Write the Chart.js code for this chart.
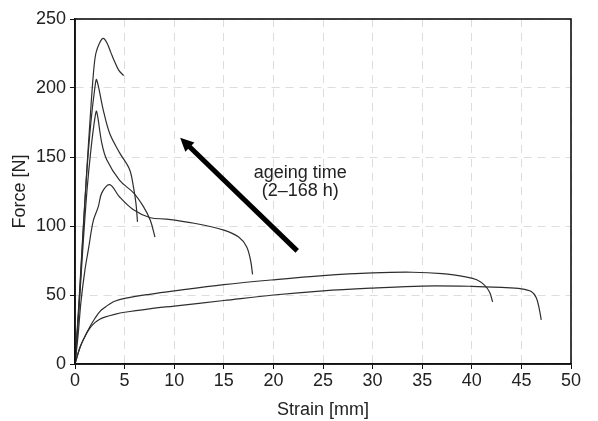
<!DOCTYPE html>
<html>
<head>
<meta charset="utf-8">
<script src="https://cdn.jsdelivr.net/npm/chart.js@4.4.0/dist/chart.umd.min.js"></script>
<style>
  html, body { margin: 0; padding: 0; background: #fff; }
  #wrap { width: 598px; height: 421px; }
</style>
</head>
<body>
<div id="wrap"><canvas id="chForce"></canvas></div>
<script>
// tick labels
var xTicks = [0, 5, 10, 15, 20, 25, 30, 35, 40, 45, 50];
var yTicks = [0, 50, 100, 150, 200, 250];

// curves (strain in mm, force in N)
var strainA = [0, 0.3, 0.7, 1.1, 1.5, 1.85, 2.1, 2.5, 2.85, 3.2, 3.6, 4.0, 4.4, 4.9];
var forceA  = [0, 30, 80, 130, 175, 210, 225, 233, 236, 233, 226, 219, 213, 209];

var strainB = [0, 0.4, 0.8, 1.2, 1.6, 2.0, 2.18, 2.85, 3.5, 4.5, 5.5, 5.9, 6.15, 6.3];
var forceB  = [0, 45, 95, 140, 175, 200, 206, 184, 167, 153, 141, 128, 116, 103];

var strainC = [0, 0.4, 0.8, 1.2, 1.6, 2.0, 2.18, 2.7, 3.2, 4.5, 5.9, 6.9, 7.6, 8.06];
var forceC  = [0, 40, 85, 125, 155, 178, 183, 160, 148, 133, 124, 114, 104, 92];

var strainD = [0, 0.3, 0.6, 1.0, 1.35, 1.85, 2.35, 2.7, 3.5, 4.5, 5.85, 7.6, 9.2, 12, 15, 16.5, 17.3, 17.7, 17.9];
var forceD  = [0, 20, 45, 68, 83, 104, 114, 124, 130, 121, 112, 106, 105, 102, 97, 92, 85, 75, 65];

var strainE = [0, 0.5, 1, 1.5, 2, 2.5, 3, 3.5, 4, 5, 7.5, 10, 15, 20, 25, 30, 34, 37, 39.5, 40.5, 41.3, 41.8, 42.1];
var forceE  = [0, 12, 20, 27, 33, 38, 41, 43.5, 45.5, 47.5, 50.5, 53, 57.5, 61, 64, 66, 66.5, 65.5, 63, 61, 57, 52, 45];

var strainF = [0, 0.5, 1, 1.5, 2, 2.5, 3, 4, 5, 7.5, 10, 15, 20, 25, 30, 35, 40, 43, 45, 46, 46.5, 46.8, 47];
var forceF  = [0, 12, 20, 26, 30, 32.5, 34, 36, 37.5, 40, 42, 46, 50, 53, 55, 56.5, 56.3, 55.5, 54.5, 52.5, 48, 40, 32];

var curves = [
  [strainA, forceA], [strainB, forceB], [strainC, forceC],
  [strainD, forceD], [strainE, forceE], [strainF, forceF]
];

function toPoints(xs, ys) {
  var pts = [];
  for (var i = 0; i < xs.length; i++) pts.push({ x: xs[i], y: ys[i] });
  return pts;
}

var datasets = curves.map(function (c) {
  return {
    data: toPoints(c[0], c[1]),
    showLine: true,
    borderColor: '#2e2e2e',
    borderWidth: 1.2,
    pointRadius: 0,
    tension: 0.35,
    fill: false
  };
});

var fontFamily = '"Liberation Sans", Arial, sans-serif';

// frame on top/right + the ageing-time arrow and its label
var extras = {
  id: 'extras',
  afterDatasetsDraw: function (chart) {
    var ctx = chart.ctx, a = chart.chartArea;
    var sx = chart.scales.x, sy = chart.scales.y;
    ctx.save();
    ctx.strokeStyle = '#111';
    ctx.lineWidth = 1.6;
    ctx.strokeRect(a.left, a.top, a.right - a.left, a.bottom - a.top);

    // arrow (data units, turned into pixels by the scales)
    var x0 = sx.getPixelForValue(22.4), y0 = sy.getPixelForValue(82);
    var x1 = sx.getPixelForValue(10.6), y1 = sy.getPixelForValue(164);
    var ang = Math.atan2(y1 - y0, x1 - x0);
    var head = 15;
    ctx.strokeStyle = '#000';
    ctx.fillStyle = '#000';
    ctx.lineWidth = 5;
    ctx.beginPath();
    ctx.moveTo(x0, y0);
    ctx.lineTo(x1 - Math.cos(ang) * head * 0.7, y1 - Math.sin(ang) * head * 0.7);
    ctx.stroke();
    ctx.beginPath();
    ctx.moveTo(x1, y1);
    ctx.lineTo(x1 - head * Math.cos(ang - 0.45), y1 - head * Math.sin(ang - 0.45));
    ctx.lineTo(x1 - head * Math.cos(ang + 0.45), y1 - head * Math.sin(ang + 0.45));
    ctx.closePath();
    ctx.fill();

    ctx.font = '18px ' + fontFamily;
    ctx.fillStyle = '#222';
    ctx.textAlign = 'center';
    ctx.textBaseline = 'middle';
    ctx.fillText('ageing time', sx.getPixelForValue(22.7), sy.getPixelForValue(138.5));
    ctx.fillText('(2\u2013168 h)', sx.getPixelForValue(22.7), sy.getPixelForValue(125.5));
    ctx.restore();
  }
};

var tickFont = { family: fontFamily, size: 18 };

new Chart(document.getElementById('chForce'), {
  type: 'scatter',
  data: { datasets: datasets },
  options: {
    responsive: true,
    maintainAspectRatio: false,
    animation: false,
    layout: { padding: { top: 19, right: 27, left: 0, bottom: 0 } },
    plugins: { legend: { display: false }, tooltip: { enabled: false } },
    scales: {
      x: {
        type: 'linear',
        min: 0, max: 50,
        afterBuildTicks: function (s) { s.ticks = xTicks.map(function (v) { return { value: v }; }); },
        afterFit: function (s) { s.height = 57; },
        ticks: { color: '#222', font: tickFont, padding: 1, maxRotation: 0 },
        grid: { color: '#dddddd', tickColor: '#111', tickLength: 5, lineWidth: 1 },
        border: { display: true, color: '#111', width: 1.6, dash: [8, 6] },
        title: { display: true, text: 'Strain [mm]', color: '#222', font: tickFont, padding: { top: 0, bottom: 0 } }
      },
      y: {
        type: 'linear',
        min: 0, max: 250,
        afterBuildTicks: function (s) { s.ticks = yTicks.map(function (v) { return { value: v }; }); },
        afterFit: function (s) { s.width = 75; },
        ticks: { color: '#222', font: tickFont, padding: 4 },
        grid: { color: '#dddddd', tickColor: '#111', tickLength: 5, lineWidth: 1 },
        border: { display: true, color: '#111', width: 1.6, dash: [8, 6] },
        title: { display: true, text: 'Force [N]', color: '#222', font: tickFont, padding: { top: 9, bottom: 0 } }
      }
    }
  },
  plugins: [extras]
});
</script>
</body>
</html>
